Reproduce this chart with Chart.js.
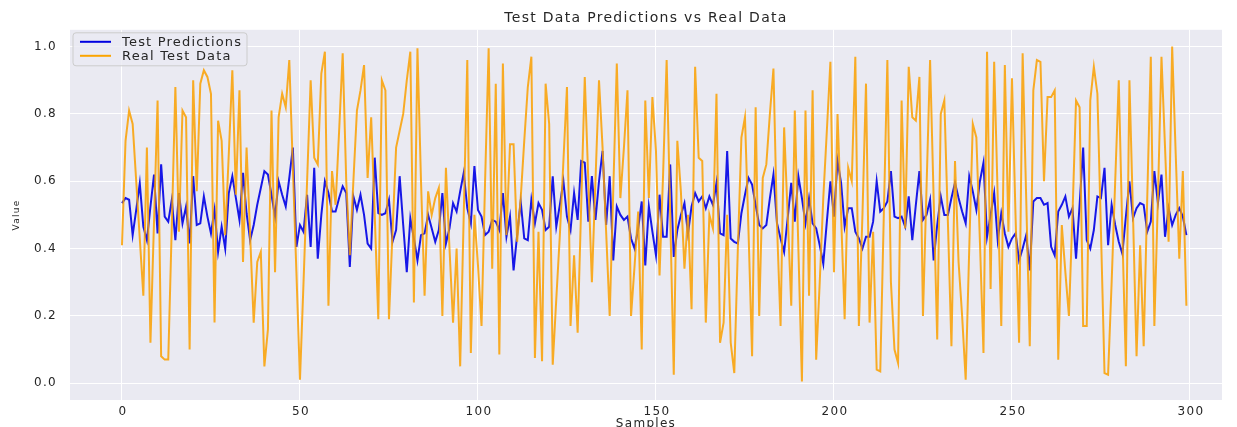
<!DOCTYPE html>
<html>
<head>
<meta charset="utf-8">
<script src="https://cdn.jsdelivr.net/npm/chart.js@4"></script>
<style>
  body { margin: 0; background: #ffffff; }
  canvas { display: block; }
</style>
</head>
<body>
<canvas id="predChart" width="1237" height="427"></canvas>
<script>
// values, one per sample (0..299)
const testPredictions = [
  0.535, 0.55, 0.545, 0.44, 0.515, 0.594, 0.465, 0.425, 0.525, 0.62,
  0.445, 0.65, 0.495, 0.48, 0.545, 0.425, 0.565, 0.475, 0.525, 0.415,
  0.615, 0.47, 0.475, 0.555, 0.495, 0.445, 0.515, 0.39, 0.465, 0.40,
  0.565, 0.615, 0.55, 0.485, 0.625, 0.505, 0.425, 0.47, 0.53, 0.58,
  0.63, 0.62, 0.56, 0.495, 0.60, 0.56, 0.525, 0.61, 0.70, 0.405,
  0.47, 0.45, 0.56, 0.405, 0.64, 0.37, 0.50, 0.60, 0.565, 0.51,
  0.51, 0.55, 0.585, 0.565, 0.345, 0.555, 0.515, 0.56, 0.50, 0.415,
  0.40, 0.67, 0.505, 0.50, 0.505, 0.545, 0.42, 0.455, 0.615, 0.47,
  0.33, 0.49, 0.43, 0.365, 0.44, 0.445, 0.50, 0.46, 0.42, 0.455,
  0.565, 0.415, 0.46, 0.535, 0.51, 0.57, 0.625, 0.52, 0.475, 0.645,
  0.515, 0.495, 0.44, 0.45, 0.485, 0.48, 0.455, 0.565, 0.435, 0.495,
  0.335, 0.44, 0.54, 0.43, 0.425, 0.545, 0.475, 0.535, 0.515, 0.455,
  0.465, 0.615, 0.465, 0.53, 0.60, 0.495, 0.455, 0.565, 0.485, 0.66,
  0.655, 0.48, 0.615, 0.485, 0.60, 0.69, 0.47, 0.615, 0.365, 0.525,
  0.50, 0.485, 0.495, 0.43, 0.40, 0.46, 0.54, 0.35, 0.525, 0.45,
  0.38, 0.56, 0.435, 0.435, 0.65, 0.375, 0.455, 0.50, 0.535, 0.445,
  0.525, 0.565, 0.54, 0.555, 0.52, 0.555, 0.53, 0.595, 0.445, 0.44,
  0.69, 0.43, 0.42, 0.415, 0.505, 0.56, 0.61, 0.59, 0.53, 0.47,
  0.46, 0.47, 0.55, 0.62, 0.475, 0.43, 0.39, 0.49, 0.595, 0.48,
  0.615, 0.55, 0.475, 0.55, 0.475, 0.46, 0.41, 0.355, 0.48, 0.60,
  0.495, 0.66, 0.595, 0.465, 0.52, 0.52, 0.45, 0.43, 0.40, 0.435,
  0.435, 0.48, 0.60, 0.51, 0.52, 0.54, 0.63, 0.495, 0.49, 0.495,
  0.465, 0.555, 0.425, 0.53, 0.63, 0.485, 0.50, 0.545, 0.365, 0.47,
  0.555, 0.50, 0.50, 0.55, 0.595, 0.55, 0.51, 0.475, 0.615, 0.57,
  0.515, 0.60, 0.655, 0.435, 0.50, 0.565, 0.425, 0.505, 0.445, 0.405,
  0.43, 0.445, 0.365, 0.40, 0.44, 0.335, 0.54, 0.55, 0.55, 0.53,
  0.535, 0.405, 0.38, 0.51, 0.53, 0.555, 0.495, 0.52, 0.37, 0.53,
  0.70, 0.425, 0.40, 0.455, 0.555, 0.55, 0.64, 0.41, 0.53, 0.47,
  0.42, 0.385, 0.495, 0.60, 0.49, 0.52, 0.535, 0.53, 0.45, 0.48,
  0.63, 0.535, 0.62, 0.435, 0.52, 0.47, 0.50, 0.52, 0.495, 0.44
];

const realTestData = [
  0.41, 0.72, 0.81, 0.77, 0.60, 0.43, 0.26, 0.70, 0.12, 0.48,
  0.84, 0.08, 0.07, 0.07, 0.47, 0.88, 0.45, 0.81, 0.79, 0.10,
  0.90, 0.57, 0.89, 0.93, 0.91, 0.86, 0.18, 0.78, 0.72, 0.44,
  0.68, 0.93, 0.56, 0.87, 0.36, 0.70, 0.44, 0.18, 0.36, 0.39,
  0.05, 0.16, 0.81, 0.33, 0.79, 0.86, 0.82, 0.96, 0.64, 0.33,
  0.01, 0.30, 0.60, 0.90, 0.67, 0.65, 0.92, 0.985, 0.23, 0.63,
  0.53, 0.75, 0.98, 0.60, 0.38, 0.60, 0.81, 0.87, 0.945, 0.61,
  0.79, 0.50, 0.19, 0.90, 0.87, 0.19, 0.45, 0.70, 0.75, 0.80,
  0.90, 0.985, 0.24, 0.995, 0.60, 0.26, 0.57, 0.50, 0.55, 0.58,
  0.20, 0.64, 0.40, 0.18, 0.40, 0.05, 0.50, 0.96, 0.09, 0.50,
  0.35, 0.17, 0.60, 0.995, 0.34, 0.89, 0.085, 0.95, 0.44, 0.71,
  0.71, 0.42, 0.55, 0.72, 0.88, 0.97, 0.075, 0.45, 0.065, 0.89,
  0.77, 0.055, 0.25, 0.44, 0.66, 0.88, 0.17, 0.38, 0.15, 0.53,
  0.91, 0.60, 0.30, 0.60, 0.90, 0.70, 0.45, 0.20, 0.57, 0.95,
  0.55, 0.70, 0.87, 0.20, 0.35, 0.51, 0.10, 0.84, 0.55, 0.85,
  0.69, 0.32, 0.62, 0.96, 0.50, 0.025, 0.72, 0.57, 0.34, 0.50,
  0.22, 0.94, 0.67, 0.66, 0.18, 0.50, 0.46, 0.86, 0.12, 0.18,
  0.50, 0.12, 0.03, 0.40, 0.73, 0.79, 0.45, 0.08, 0.82, 0.20,
  0.61, 0.65, 0.80, 0.935, 0.47, 0.17, 0.76, 0.50, 0.23, 0.81,
  0.40, 0.005, 0.81, 0.26, 0.87, 0.07, 0.30, 0.55, 0.75, 0.955,
  0.33, 0.80, 0.50, 0.19, 0.64, 0.60, 0.97, 0.17, 0.50, 0.89,
  0.18, 0.45, 0.04, 0.035, 0.50, 0.96, 0.30, 0.10, 0.06, 0.84,
  0.46, 0.94, 0.79, 0.78, 0.91, 0.20, 0.58, 0.96, 0.55, 0.13,
  0.80, 0.84, 0.48, 0.11, 0.66, 0.36, 0.20, 0.01, 0.40, 0.77,
  0.73, 0.42, 0.09, 0.985, 0.28, 0.955, 0.55, 0.17, 0.945, 0.45,
  0.906, 0.50, 0.12, 0.98, 0.55, 0.11, 0.87, 0.96, 0.955, 0.60,
  0.85, 0.85, 0.87, 0.07, 0.47, 0.33, 0.20, 0.50, 0.84, 0.82,
  0.17, 0.17, 0.84, 0.94, 0.86, 0.45, 0.03, 0.025, 0.30, 0.60,
  0.90, 0.45, 0.05, 0.90, 0.50, 0.08, 0.41, 0.11, 0.55, 0.97,
  0.17, 0.55, 0.97, 0.70, 0.42, 1.00, 0.68, 0.37, 0.63, 0.23
];

const xTicks = [0, 50, 100, 150, 200, 250, 300];
const yTicks = [0.0, 0.2, 0.4, 0.6, 0.8, 1.0];

const textColor = '#262626';
const font = 'DejaVu Sans';
// the reference text is stretched sideways, so space the letters out a bit
const spacing = '1.3px';

const wideText = {
    id: 'wideText',
    beforeUpdate(chart) { chart.ctx.letterSpacing = spacing; },
    beforeLayout(chart) { chart.ctx.letterSpacing = spacing; },
    beforeDraw(chart) { chart.ctx.letterSpacing = spacing; },
};

// seaborn style grey panel behind the plot
const panelBg = {
    id: 'panelBg',
    beforeDraw(chart) {
        const a = chart.chartArea;
        const c = chart.ctx;
        c.save();
        c.fillStyle = '#eaeaf2';
        c.fillRect(a.left, a.top, a.right - a.left, a.bottom - a.top);
        c.restore();
    },
};

// matplotlib style legend box in the upper left corner
const boxLegend = {
    id: 'boxLegend',
    afterDraw(chart) {
        const a = chart.chartArea;
        const c = chart.ctx;
        const x = a.left + 3, y = a.top + 3;
        c.save();
        c.beginPath();
        c.roundRect(x, y, 174, 33, 3);
        c.fillStyle = 'rgba(234,234,242,0.8)';
        c.fill();
        c.strokeStyle = '#cccccc';
        c.lineWidth = 1;
        c.stroke();
        c.font = '13px "' + font + '"';
        c.letterSpacing = '1.2px';
        c.textBaseline = 'middle';
        chart.data.datasets.forEach((ds, i) => {
            const ly = y + 9 + i * 14;
            c.strokeStyle = ds.legendColor;
            c.lineWidth = 2;
            c.beginPath();
            c.moveTo(x + 7, ly);
            c.lineTo(x + 38, ly);
            c.stroke();
            c.fillStyle = textColor;
            c.fillText(ds.label, x + 49, ly + 1);
        });
        c.restore();
    },
};

const ctx = document.getElementById('predChart').getContext('2d');
const predChart = new Chart(ctx, {
    type: 'line',
    data: {
        datasets: [{
            label: 'Test Predictions',
            data: testPredictions.map((v, i) => ({ x: i, y: v })),
            borderColor: 'rgba(0, 0, 230, 0.9)',
            legendColor: '#0000e0',
            borderWidth: 2,
            pointRadius: 0,
            order: 1,
        }, {
            label: 'Real Test Data',
            data: realTestData.map((v, i) => ({ x: i, y: v })),
            borderColor: 'rgba(250, 160, 0, 0.85)',
            legendColor: '#fba400',
            borderWidth: 2,
            pointRadius: 0,
            order: 0,
        }],
    },
    options: {
        responsive: false,
        animation: false,
        layout: { padding: { left: 0, right: 15, top: 0, bottom: 0 } },
        scales: {
            x: {
                type: 'linear',
                min: -14.6,
                max: 309,
                afterFit(scale) { scale.height = 27; },
                afterBuildTicks(scale) { scale.ticks = xTicks.map(v => ({ value: v })); },
                grid: { color: '#ffffff', lineWidth: 1, drawTicks: false },
                border: { display: false },
                ticks: {
                    color: textColor, font: { family: font, size: 12 }, padding: 5,
                    maxRotation: 0, labelOffset: 1,
                },
                title: {
                    display: true, text: 'Samples', color: textColor,
                    font: { family: font, size: 12 }, padding: { top: 0, bottom: -4 },
                },
            },
            y: {
                type: 'linear',
                min: -0.05,
                max: 1.05,
                afterFit(scale) { scale.width = 70; },
                afterBuildTicks(scale) { scale.ticks = yTicks.map(v => ({ value: v })); },
                grid: { color: '#ffffff', lineWidth: 1, drawTicks: false },
                border: { display: false },
                ticks: {
                    color: textColor, font: { family: font, size: 12 }, padding: 13,
                    callback: v => v.toFixed(1),
                },
                title: {
                    display: true, text: 'Value', color: textColor,
                    font: { family: font, size: 9 }, padding: { top: 11, bottom: 0 },
                },
            },
        },
        plugins: {
            legend: { display: false },
            tooltip: { enabled: false },
            title: {
                display: true,
                fullSize: false,
                text: 'Test Data Predictions vs Real Data',
                color: textColor,
                font: { family: font, size: 14, weight: 'normal' },
                padding: { top: 10, bottom: 3 },
            },
        },
    },
    plugins: [wideText, panelBg, boxLegend],
});
</script>
</body>
</html>
